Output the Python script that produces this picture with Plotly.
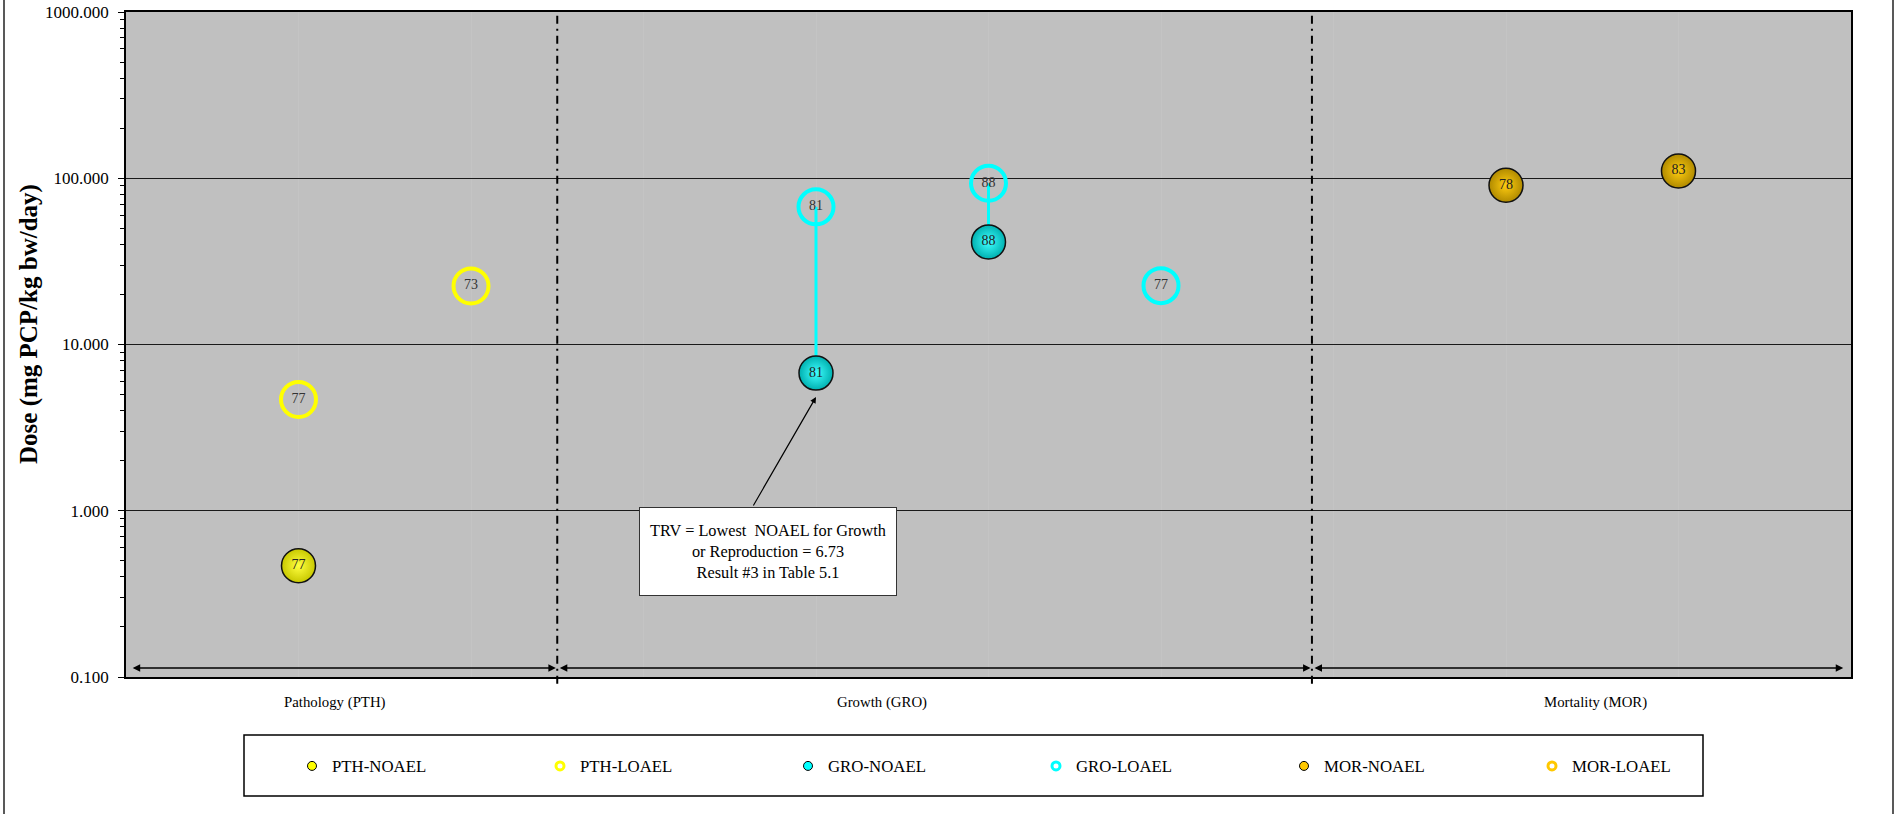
import math
import plotly.graph_objects as go

# ---------------- data ----------------
pth_noael_x = [1]
pth_noael_y = [0.467]
pth_noael_lbl = ["77"]

pth_loael_x = [1, 2]
pth_loael_y = [4.67, 22.5]
pth_loael_lbl = ["77", "73"]

gro_noael_x = [4, 5]
gro_noael_y = [6.73, 41.4]
gro_noael_lbl = ["81", "88"]

gro_loael_x = [4, 5, 6]
gro_loael_y = [67.3, 93.3, 22.6]
gro_loael_lbl = ["81", "88", "77"]

mor_noael_x = [8, 9]
mor_noael_y = [90.7, 110.6]
mor_noael_lbl = ["78", "83"]

mor_loael_x = []
mor_loael_y = []
mor_loael_lbl = []

group_names = ["Pathology (PTH)", "Growth (GRO)", "Mortality (MOR)"]
group_label_x = [1.21, 4.38, 8.52]
group_bounds = [0.0, 2.5, 6.875, 10.0]

y_ticks = [0.1, 1, 10, 100, 1000]

trv_value = 6.73
trv_x = 4

# ---------------- layout geometry ----------------
W, H = 1897, 814
ML, MR, MT, MB = 126, 46, 12, 137
PW, PH = W - ML - MR, H - MT - MB

def px_x(p):
    return (p - ML) / PW

def px_y(p):
    return (H - MB - p) / PH

FONT = "Liberation Serif"
YELLOW, CYAN, GOLD = "#FFFF00", "#00FFFF", "#FFC800"

fig = go.Figure()

# connecting lines NOAEL -> LOAEL (same study, same x)
lx, ly = [], []
for xn, yn in zip(gro_noael_x, gro_noael_y):
    for xl, yl in zip(gro_loael_x, gro_loael_y):
        if xl == xn:
            lx += [xn, xl, None]
            ly += [yn, yl, None]
fig.add_trace(go.Scatter(x=lx, y=ly, mode="lines", line=dict(color=CYAN, width=3),
                         showlegend=False, hoverinfo="skip"))

def loael(x, y, lbl, col):
    fig.add_trace(go.Scatter(
        x=x, y=y, text=lbl, mode="markers+text", textposition="middle center",
        textfont=dict(family=FONT, size=14, color="#333"),
        marker=dict(symbol="circle", size=35, color="rgba(0,0,0,0)",
                    line=dict(color=col, width=4)),
        showlegend=False))

def noael(x, y, lbl, edge, center):
    fig.add_trace(go.Scatter(
        x=x, y=y, text=lbl, mode="markers+text", textposition="middle center",
        textfont=dict(family=FONT, size=14, color="#222"),
        marker=dict(symbol="circle", size=34, color=edge,
                    gradient=dict(type="radial", color=center),
                    line=dict(color="#111", width=1.5)),
        showlegend=False))

loael(pth_loael_x, pth_loael_y, pth_loael_lbl, YELLOW)
loael(gro_loael_x, gro_loael_y, gro_loael_lbl, CYAN)
loael(mor_loael_x, mor_loael_y, mor_loael_lbl, GOLD)
noael(pth_noael_x, pth_noael_y, pth_noael_lbl, "#C8C800", "#FFFF40")
noael(gro_noael_x, gro_noael_y, gro_noael_lbl, "#00B0B0", "#40FFFF")
noael(mor_noael_x, mor_noael_y, mor_noael_lbl, "#B08A00", "#FFCC10")

# legend-only entries
legend_items = [("PTH-NOAEL", YELLOW, True), ("PTH-LOAEL", YELLOW, False),
                ("GRO-NOAEL", CYAN, True), ("GRO-LOAEL", CYAN, False),
                ("MOR-NOAEL", GOLD, True), ("MOR-LOAEL", GOLD, False)]
for name, col, filled in legend_items:
    if filled:
        mk = dict(symbol="circle", size=9, color=col, line=dict(color="black", width=1))
    else:
        mk = dict(symbol="circle", size=8, color="rgba(0,0,0,0)", line=dict(color=col, width=3))
    fig.add_trace(go.Scatter(x=[None], y=[None], mode="markers", name=name, marker=mk))

shapes = []
# group dividers (dash-dot)
for b in group_bounds[1:-1]:
    shapes.append(dict(type="line", xref="x", yref="paper", x0=b, x1=b, y0=-0.01, y1=1,
                       line=dict(color="black", width=2, dash="8px,5px,2px,5px")))
# legend frame
shapes.append(dict(type="rect", xref="paper", yref="paper",
                   x0=px_x(244), x1=px_x(1703), y0=px_y(796), y1=px_y(735),
                   line=dict(color="black", width=1.5), fillcolor="white", layer="below"))
# outer frame (left & right edges)
for p in (4, 1893):
    shapes.append(dict(type="line", xref="paper", yref="paper", x0=px_x(p), x1=px_x(p),
                       y0=px_y(H + 2), y1=px_y(-2), line=dict(color="#222", width=1.5)))

annotations = []
# double-headed range arrows under each group
arrow_y = math.log10(0.1132)
for i in range(3):
    a0 = group_bounds[i] + (0.03 if i == 0 else 0.006)
    a1 = group_bounds[i + 1] - (0.045 if i == 2 else 0.008)
    annotations.append(dict(x=a1, y=arrow_y, ax=a0, ay=arrow_y, xref="x", yref="y",
                            axref="x", ayref="y", text="", showarrow=True,
                            arrowhead=2, startarrowhead=2, arrowside="end+start",
                            arrowsize=1, startarrowsize=1, arrowwidth=1.5,
                            arrowcolor="black", standoff=0, startstandoff=0))
# group labels
for name, gx in zip(group_names, group_label_x):
    annotations.append(dict(x=gx, y=px_y(702), xref="x", yref="paper", text=name,
                            showarrow=False, xanchor="center", yanchor="middle",
                            font=dict(family=FONT, size=14.8, color="black")))
# TRV call-out box
annotations.append(dict(x=3.719, y=-0.245, xref="x", yref="y",
                        text="TRV = Lowest\u00a0 NOAEL for Growth<br>or Reproduction = 6.73<br>Result #3 in Table 5.1",
                        showarrow=False, xanchor="center", yanchor="middle",
                        width=250, height=81, valign="middle", align="center",
                        yshift=0, bgcolor="white", bordercolor="#333", borderwidth=1, borderpad=3,
                        font=dict(family=FONT, size=16.3, color="black")))
# arrow from call-out to TRV point
annotations.append(dict(x=trv_x, y=0.684, ax=3.632, ay=0.0226, xref="x", yref="y",
                        axref="x", ayref="y", text="", showarrow=True, arrowhead=2,
                        arrowsize=1, arrowwidth=1.2, arrowcolor="black", standoff=0))
# y-axis title
annotations.append(dict(x=px_x(29), y=px_y(324), xref="paper", yref="paper",
                        text="<b>Dose (mg PCP/kg bw/day)</b>", textangle=-90,
                        showarrow=False, xanchor="center", yanchor="middle",
                        font=dict(family=FONT, size=25, color="black")))

minor_vals = [d * k for d in y_ticks[:-1] for k in range(2, 10)]

fig.update_layout(
    width=W, height=H,
    margin=dict(l=ML, r=MR, t=MT, b=MB, autoexpand=False),
    paper_bgcolor="white", plot_bgcolor="#C0C0C0",
    shapes=shapes, annotations=annotations,
    showlegend=True,
    legend=dict(orientation="h", xref="container", yref="container",
                x=292 / W, xanchor="left", y=1 - 766 / H, yanchor="middle",
                entrywidth=203, entrywidthmode="pixels", itemwidth=30,
                font=dict(family=FONT, size=16.8, color="black"),
                bgcolor="rgba(0,0,0,0)", borderwidth=0),
    xaxis=dict(range=[0, 10], showticklabels=False, ticks="", zeroline=False,
               showgrid=True, gridcolor="#C4C4C4", gridwidth=1, dtick=1,
               showline=True, linecolor="black", linewidth=1.5, mirror=True, fixedrange=True),
    yaxis=dict(type="log", range=[-1, 3], tickvals=y_ticks, tickformat=".3f",
               ticks="outside", ticklen=6, tickcolor="black", tickwidth=1,
               ticklabelstandoff=6,
               tickfont=dict(family=FONT, size=17, color="black"),
               showgrid=True, gridcolor="#1a1a1a", gridwidth=1.2, zeroline=False,
               showline=True, linecolor="black", linewidth=1.5, mirror=True,
               minor=dict(tickmode="array", tickvals=minor_vals, ticks="outside", ticklen=4,
                          tickcolor="black", tickwidth=1, showgrid=False),
               fixedrange=True),
)

fig.write_html("out.html", config={"displayModeBar": False},
               post_script="document.body.style.margin='0';")
